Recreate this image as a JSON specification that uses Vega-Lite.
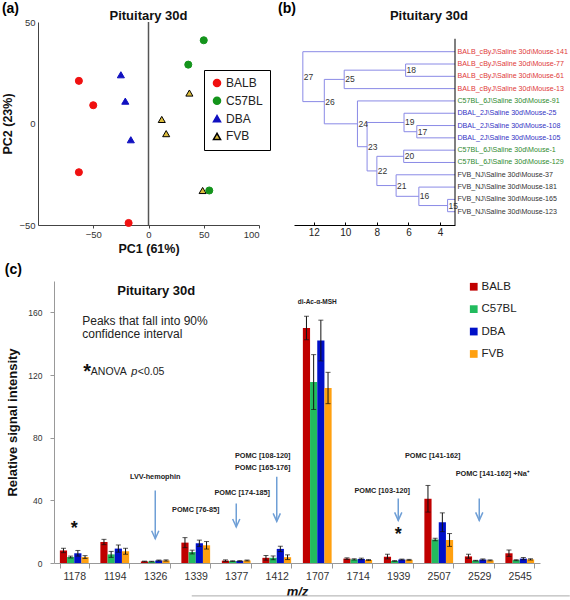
{
  "$schema": "https://vega.github.io/schema/vega-lite/v6.json",
  "background": "white",
  "padding": {"left": 1, "top": 2, "right": 0, "bottom": 0},
  "config": {"view": {"stroke": null}, "font": "Liberation Sans", "axis": {"grid": false}},
  "spacing": 8,
  "resolve": {"scale": {"x": "independent", "y": "independent", "color": "independent", "fill": "independent", "stroke": "independent", "shape": "independent"}},
  "vconcat": [
    {
      "spacing": 7,
      "resolve": {"scale": {"x": "independent", "y": "independent", "color": "independent", "fill": "independent", "stroke": "independent", "shape": "independent"}},
      "hconcat": [
        {
          "title": {"text": "(a)", "anchor": "start", "frame": "bounds", "fontSize": 14, "fontWeight": "bold", "offset": -6},
          "width": 221,
          "height": 203,
          "layer": [
            {
              "data": {"values": [{}]},
              "mark": {"type": "rule", "color": "#555", "strokeWidth": 1.5},
              "encoding": {"x": {"datum": 0, "type": "quantitative"}}
            },
            {
              "data": {"values": [
                {"strain": "BALB", "pc1": -63, "pc2": 21},
                {"strain": "BALB", "pc1": -50, "pc2": 9},
                {"strain": "BALB", "pc1": -63, "pc2": -24},
                {"strain": "BALB", "pc1": -18, "pc2": -49},
                {"strain": "DBA", "pc1": -25, "pc2": 24},
                {"strain": "DBA", "pc1": -21, "pc2": 11},
                {"strain": "DBA", "pc1": -16, "pc2": -8},
                {"strain": "FVB", "pc1": 37, "pc2": 15},
                {"strain": "FVB", "pc1": 12, "pc2": 2},
                {"strain": "FVB", "pc1": 16, "pc2": -5},
                {"strain": "FVB", "pc1": 49, "pc2": -33},
                {"strain": "C57BL", "pc1": 50, "pc2": 41},
                {"strain": "C57BL", "pc1": 36, "pc2": 29},
                {"strain": "C57BL", "pc1": 55, "pc2": -33}
              ]},
              "mark": {"type": "point", "filled": true, "opacity": 1, "size": 50, "strokeWidth": 1},
              "encoding": {
                "x": {"field": "pc1", "type": "quantitative", "scale": {"domain": [-100, 100], "nice": false, "zero": false},
                  "axis": {"values": [-50, 0, 50, 100], "labelFontSize": 9.5, "labelColor": "#333", "domainColor": "#444", "tickColor": "#444", "tickSize": 3, "labelPadding": 1, "title": "PC1 (61%)", "titleFontSize": 12.5, "titleFontWeight": "bold", "titleColor": "#111", "titlePadding": 4}},
                "y": {"field": "pc2", "type": "quantitative", "scale": {"domain": [-50, 50], "nice": false, "zero": false},
                  "axis": {"values": [-50, 0, 50], "labelFontSize": 9.5, "labelColor": "#333", "domainColor": "#444", "ticks": false, "labelPadding": 3, "title": "PC2 (23%)", "titleFontSize": 12.5, "titleFontWeight": "bold", "titleColor": "#111", "titlePadding": 4}},
                "shape": {"field": "strain", "type": "nominal", "scale": {"domain": ["BALB", "C57BL", "DBA", "FVB"], "range": ["circle", "circle", "triangle-up", "triangle-up"]},
                  "legend": {"title": null, "orient": "none", "legendX": 166, "legendY": 48, "strokeColor": "#000", "fillColor": "white", "padding": 7, "labelFontSize": 12, "labelColor": "#222", "rowPadding": 3.8, "symbolSize": 50, "labelOffset": 3}},
                "fill": {"field": "strain", "type": "nominal", "scale": {"domain": ["BALB", "C57BL", "DBA", "FVB"], "range": ["#f01010", "#14941c", "#1010c0", "#dcbc3c"]},
                  "legend": {"title": null, "orient": "none", "legendX": 166, "legendY": 48, "strokeColor": "#000", "fillColor": "white", "padding": 7, "labelFontSize": 12, "labelColor": "#222", "rowPadding": 3.8, "symbolSize": 50, "labelOffset": 3}},
                "stroke": {"field": "strain", "type": "nominal", "scale": {"domain": ["BALB", "C57BL", "DBA", "FVB"], "range": ["#f01010", "#14941c", "#1010c0", "#000000"]},
                  "legend": {"title": null, "orient": "none", "legendX": 166, "legendY": 48, "strokeColor": "#000", "fillColor": "white", "padding": 7, "labelFontSize": 12, "labelColor": "#222", "rowPadding": 3.8, "symbolSize": 50, "labelOffset": 3}}
              }
            },
            {
              "data": {"values": [{"t": "Pituitary 30d"}]},
              "mark": {"type": "text", "fontSize": 13, "fontWeight": "bold", "color": "#111", "baseline": "middle", "dy": -6},
              "encoding": {"x": {"datum": 0, "type": "quantitative"}, "y": {"datum": 50, "type": "quantitative"}, "text": {"field": "t"}}
            }
          ]
        },
        {
          "title": {"text": "(b)", "anchor": "start", "frame": "bounds", "fontSize": 14, "fontWeight": "bold", "offset": -6, "dx": -16},
          "width": 161,
          "height": 203,
          "layer": [
            {
              "data": {"values": [
                {"h1": 3.05, "h2": 3.52, "p1": 13, "p2": 13}, {"h1": 3.05, "h2": 3.52, "p1": 14, "p2": 14}, {"h1": 3.52, "h2": 3.52, "p1": 13, "p2": 14},
                {"h1": 3.05, "h2": 5.34, "p1": 12, "p2": 12}, {"h1": 3.52, "h2": 5.34, "p1": 13.5, "p2": 13.5}, {"h1": 5.34, "h2": 5.34, "p1": 12, "p2": 13.5},
                {"h1": 3.05, "h2": 5.47, "p1": 7, "p2": 7}, {"h1": 3.05, "h2": 5.47, "p1": 8, "p2": 8}, {"h1": 5.47, "h2": 5.47, "p1": 7, "p2": 8},
                {"h1": 3.05, "h2": 6.18, "p1": 2, "p2": 2}, {"h1": 3.05, "h2": 6.18, "p1": 3, "p2": 3}, {"h1": 6.18, "h2": 6.18, "p1": 2, "p2": 3},
                {"h1": 3.05, "h2": 6.28, "p1": 6, "p2": 6}, {"h1": 5.47, "h2": 6.28, "p1": 7.5, "p2": 7.5}, {"h1": 6.28, "h2": 6.28, "p1": 6, "p2": 7.5},
                {"h1": 3.05, "h2": 6.3, "p1": 9, "p2": 9}, {"h1": 3.05, "h2": 6.3, "p1": 10, "p2": 10}, {"h1": 6.3, "h2": 6.3, "p1": 9, "p2": 10},
                {"h1": 3.05, "h2": 6.78, "p1": 11, "p2": 11}, {"h1": 5.34, "h2": 6.78, "p1": 12.75, "p2": 12.75}, {"h1": 6.78, "h2": 6.78, "p1": 11, "p2": 12.75},
                {"h1": 6.3, "h2": 8.0, "p1": 9.5, "p2": 9.5}, {"h1": 6.78, "h2": 8.0, "p1": 11.875, "p2": 11.875}, {"h1": 8.0, "h2": 8.0, "p1": 9.5, "p2": 11.875},
                {"h1": 6.28, "h2": 8.62, "p1": 6.75, "p2": 6.75}, {"h1": 8.0, "h2": 8.62, "p1": 10.6875, "p2": 10.6875}, {"h1": 8.62, "h2": 8.62, "p1": 6.75, "p2": 10.6875},
                {"h1": 3.05, "h2": 9.23, "p1": 5, "p2": 5}, {"h1": 8.62, "h2": 9.23, "p1": 8.719, "p2": 8.719}, {"h1": 9.23, "h2": 9.23, "p1": 5, "p2": 8.719},
                {"h1": 3.05, "h2": 10.07, "p1": 4, "p2": 4}, {"h1": 6.18, "h2": 10.07, "p1": 2.5, "p2": 2.5}, {"h1": 10.07, "h2": 10.07, "p1": 2.5, "p2": 4},
                {"h1": 10.07, "h2": 11.33, "p1": 3.25, "p2": 3.25}, {"h1": 9.23, "h2": 11.33, "p1": 6.859, "p2": 6.859}, {"h1": 11.33, "h2": 11.33, "p1": 3.25, "p2": 6.859},
                {"h1": 3.05, "h2": 12.69, "p1": 1, "p2": 1}, {"h1": 11.33, "h2": 12.69, "p1": 5.055, "p2": 5.055}, {"h1": 12.69, "h2": 12.69, "p1": 1, "p2": 5.055}
              ]},
              "mark": {"type": "rule", "color": "#8a8ae6", "strokeWidth": 1},
              "encoding": {
                "x": {"field": "h1", "type": "quantitative", "scale": {"domain": [3.05, 13.25], "reverse": true, "nice": false, "zero": false},
                  "axis": {"values": [12, 10, 8, 6, 4], "title": null, "labelFontSize": 10, "labelColor": "#222", "domainColor": "#000", "tickColor": "#000", "tickSize": -3, "labelPadding": 5}},
                "x2": {"field": "h2"},
                "y": {"field": "p1", "type": "quantitative", "scale": {"domain": [-1.413, 15.08], "reverse": true, "nice": false, "zero": false}, "axis": null},
                "y2": {"field": "p2"}
              }
            },
            {
              "data": {"values": [{}]},
              "mark": {"type": "rule", "color": "#000", "strokeWidth": 1},
              "encoding": {"x": {"datum": 3.05, "type": "quantitative"}, "y": {"datum": -0.05, "type": "quantitative"}, "y2": {"datum": 15.08}}
            },
            {
              "data": {"values": [
                {"id": "15", "h": 3.52, "p": 13.5}, {"id": "16", "h": 5.34, "p": 12.75}, {"id": "17", "h": 5.47, "p": 7.5},
                {"id": "18", "h": 6.18, "p": 2.5}, {"id": "19", "h": 6.28, "p": 6.75}, {"id": "20", "h": 6.3, "p": 9.5},
                {"id": "21", "h": 6.78, "p": 11.875}, {"id": "22", "h": 8.0, "p": 10.6875}, {"id": "23", "h": 8.62, "p": 8.719},
                {"id": "24", "h": 9.23, "p": 6.859}, {"id": "25", "h": 10.07, "p": 3.25}, {"id": "26", "h": 11.33, "p": 5.055},
                {"id": "27", "h": 12.69, "p": 3.027}
              ]},
              "mark": {"type": "text", "align": "left", "baseline": "middle", "dx": 1, "fontSize": 8.5, "color": "#333"},
              "encoding": {"x": {"field": "h", "type": "quantitative"}, "y": {"field": "p", "type": "quantitative"}, "text": {"field": "id"}}
            },
            {
              "data": {"values": [
                {"i": 1, "grp": "BALB", "leaf": "BALB_cByJ\\Saline 30d\\Mouse-141"},
                {"i": 2, "grp": "BALB", "leaf": "BALB_cByJ\\Saline 30d\\Mouse-77"},
                {"i": 3, "grp": "BALB", "leaf": "BALB_cByJ\\Saline 30d\\Mouse-61"},
                {"i": 4, "grp": "BALB", "leaf": "BALB_cByJ\\Saline 30d\\Mouse-13"},
                {"i": 5, "grp": "C57BL", "leaf": "C57BL_6J\\Saline 30d\\Mouse-91"},
                {"i": 6, "grp": "DBA", "leaf": "DBAL_2J\\Saline 30d\\Mouse-25"},
                {"i": 7, "grp": "DBA", "leaf": "DBAL_2J\\Saline 30d\\Mouse-108"},
                {"i": 8, "grp": "DBA", "leaf": "DBAL_2J\\Saline 30d\\Mouse-105"},
                {"i": 9, "grp": "C57BL", "leaf": "C57BL_6J\\Saline 30d\\Mouse-1"},
                {"i": 10, "grp": "C57BL", "leaf": "C57BL_6J\\Saline 30d\\Mouse-129"},
                {"i": 11, "grp": "FVB", "leaf": "FVB_NJ\\Saline 30d\\Mouse-37"},
                {"i": 12, "grp": "FVB", "leaf": "FVB_NJ\\Saline 30d\\Mouse-181"},
                {"i": 13, "grp": "FVB", "leaf": "FVB_NJ\\Saline 30d\\Mouse-165"},
                {"i": 14, "grp": "FVB", "leaf": "FVB_NJ\\Saline 30d\\Mouse-123"}
              ]},
              "mark": {"type": "text", "align": "left", "baseline": "middle", "dx": 2.5, "fontSize": 7.1},
              "encoding": {
                "x": {"datum": 3.05, "type": "quantitative"},
                "y": {"field": "i", "type": "quantitative"},
                "text": {"field": "leaf"},
                "color": {"field": "grp", "type": "nominal", "scale": {"domain": ["BALB", "C57BL", "DBA", "FVB"], "range": ["#e03a3a", "#2f8a2f", "#3333c4", "#333333"]}, "legend": null}
              }
            },
            {
              "data": {"values": [{"t": "Pituitary 30d"}]},
              "mark": {"type": "text", "fontSize": 13, "fontWeight": "bold", "color": "#111", "baseline": "middle", "dy": -6},
              "encoding": {"x": {"datum": 4.7, "type": "quantitative"}, "y": {"datum": -1.413, "type": "quantitative"}, "text": {"field": "t"}}
            }
          ]
        }
      ]
    },
    {
      "title": {"text": "(c)", "anchor": "start", "frame": "bounds", "fontSize": 14, "fontWeight": "bold", "offset": 4, "dx": -2},
      "width": 502,
      "height": 282,
      "data": {"values": [
        {"mz": "1178", "strain": "BALB", "value": 8.0, "lo": 6.6, "hi": 9.4},
        {"mz": "1178", "strain": "C57BL", "value": 3.8, "lo": 3.2, "hi": 4.4},
        {"mz": "1178", "strain": "DBA", "value": 6.2, "lo": 4.4, "hi": 8.0},
        {"mz": "1178", "strain": "FVB", "value": 3.8, "lo": 2.9, "hi": 4.7},
        {"mz": "1194", "strain": "BALB", "value": 13.4, "lo": 11.7, "hi": 15.1},
        {"mz": "1194", "strain": "C57BL", "value": 5.5, "lo": 3.6, "hi": 7.4},
        {"mz": "1194", "strain": "DBA", "value": 9.2, "lo": 6.9, "hi": 11.5},
        {"mz": "1194", "strain": "FVB", "value": 7.5, "lo": 5.6, "hi": 9.4},
        {"mz": "1326", "strain": "BALB", "value": 1.0, "lo": 0.8, "hi": 1.2},
        {"mz": "1326", "strain": "C57BL", "value": 0.9, "lo": 0.7, "hi": 1.1},
        {"mz": "1326", "strain": "DBA", "value": 1.6, "lo": 1.3, "hi": 1.9},
        {"mz": "1326", "strain": "FVB", "value": 1.6, "lo": 1.2, "hi": 2.0},
        {"mz": "1339", "strain": "BALB", "value": 13.0, "lo": 9.8, "hi": 16.2},
        {"mz": "1339", "strain": "C57BL", "value": 7.0, "lo": 5.8, "hi": 8.2},
        {"mz": "1339", "strain": "DBA", "value": 12.6, "lo": 10.6, "hi": 14.6},
        {"mz": "1339", "strain": "FVB", "value": 11.3, "lo": 8.9, "hi": 13.7},
        {"mz": "1377", "strain": "BALB", "value": 1.5, "lo": 1.0, "hi": 2.0},
        {"mz": "1377", "strain": "C57BL", "value": 1.2, "lo": 1.0, "hi": 1.4},
        {"mz": "1377", "strain": "DBA", "value": 1.3, "lo": 1.1, "hi": 1.5},
        {"mz": "1377", "strain": "FVB", "value": 1.6, "lo": 1.3, "hi": 1.9},
        {"mz": "1412", "strain": "BALB", "value": 3.3, "lo": 1.8, "hi": 4.8},
        {"mz": "1412", "strain": "C57BL", "value": 3.3, "lo": 2.1, "hi": 4.5},
        {"mz": "1412", "strain": "DBA", "value": 9.0, "lo": 7.3, "hi": 10.7},
        {"mz": "1412", "strain": "FVB", "value": 3.7, "lo": 2.2, "hi": 5.2},
        {"mz": "1707", "strain": "BALB", "value": 150.0, "lo": 142.5, "hi": 157.5},
        {"mz": "1707", "strain": "C57BL", "value": 115.5, "lo": 98.0, "hi": 133.0},
        {"mz": "1707", "strain": "DBA", "value": 142.0, "lo": 129.0, "hi": 155.0},
        {"mz": "1707", "strain": "FVB", "value": 111.7, "lo": 101.7, "hi": 121.7},
        {"mz": "1714", "strain": "BALB", "value": 2.8, "lo": 2.3, "hi": 3.3},
        {"mz": "1714", "strain": "C57BL", "value": 2.3, "lo": 1.9, "hi": 2.7},
        {"mz": "1714", "strain": "DBA", "value": 2.6, "lo": 2.1, "hi": 3.1},
        {"mz": "1714", "strain": "FVB", "value": 1.9, "lo": 1.6, "hi": 2.2},
        {"mz": "1939", "strain": "BALB", "value": 4.0, "lo": 2.6, "hi": 5.6},
        {"mz": "1939", "strain": "C57BL", "value": 1.3, "lo": 1.1, "hi": 1.5},
        {"mz": "1939", "strain": "DBA", "value": 2.2, "lo": 1.9, "hi": 2.5},
        {"mz": "1939", "strain": "FVB", "value": 2.0, "lo": 1.7, "hi": 2.3},
        {"mz": "2507", "strain": "BALB", "value": 41.0, "lo": 32.5, "hi": 49.5},
        {"mz": "2507", "strain": "C57BL", "value": 15.0, "lo": 14.2, "hi": 15.8},
        {"mz": "2507", "strain": "DBA", "value": 26.0, "lo": 20.0, "hi": 32.0},
        {"mz": "2507", "strain": "FVB", "value": 14.7, "lo": 10.6, "hi": 18.8},
        {"mz": "2529", "strain": "BALB", "value": 4.2, "lo": 3.0, "hi": 5.6},
        {"mz": "2529", "strain": "C57BL", "value": 1.5, "lo": 1.3, "hi": 1.7},
        {"mz": "2529", "strain": "DBA", "value": 2.2, "lo": 1.8, "hi": 2.6},
        {"mz": "2529", "strain": "FVB", "value": 1.7, "lo": 1.4, "hi": 2.0},
        {"mz": "2545", "strain": "BALB", "value": 6.2, "lo": 4.2, "hi": 8.3},
        {"mz": "2545", "strain": "C57BL", "value": 1.8, "lo": 1.5, "hi": 2.1},
        {"mz": "2545", "strain": "DBA", "value": 2.8, "lo": 2.1, "hi": 3.5},
        {"mz": "2545", "strain": "FVB", "value": 2.3, "lo": 1.9, "hi": 2.7}
      ]},
      "encoding": {
        "x": {"field": "mz", "type": "nominal",
          "scale": {"domain": ["1178", "1194", "1326", "1339", "1377", "1412", "1707", "1714", "1939", "2507", "2529", "2545"], "range": [16, 502], "paddingInner": 0.29, "paddingOuter": 0.145},
          "axis": {"title": "m/z", "titleFontStyle": "italic", "titleFontWeight": "bold", "titleFontSize": 13, "titleColor": "#111", "titlePadding": 4, "labelAngle": 0, "labelFontSize": 10.5, "labelColor": "#333", "domainColor": "#999", "tickColor": "#999", "tickBand": "extent", "tickSize": 5, "labelPadding": 3}}
      },
      "layer": [
        {
          "mark": {"type": "bar"},
          "encoding": {
            "xOffset": {"field": "strain", "type": "nominal", "scale": {"domain": ["BALB", "C57BL", "DBA", "FVB"]}},
            "y": {"field": "value", "type": "quantitative", "scale": {"domain": [0, 180], "nice": false},
              "axis": {"values": [0, 20, 40, 60, 80, 100, 120, 140, 160, 180], "offset": -16, "labelOverlap": false, "labelFontSize": 8.5, "labelColor": "#333", "domainColor": "#999", "tickColor": "#999", "tickSize": 4, "labelPadding": 8, "title": "Relative signal intensity", "titleFontSize": 13, "titleFontWeight": "bold", "titleColor": "#111", "titlePadding": 8}},
            "color": {"field": "strain", "type": "nominal", "scale": {"domain": ["BALB", "C57BL", "DBA", "FVB"], "range": ["#c00000", "#22bb5e", "#0010c8", "#ffa010"]},
              "legend": {"title": null, "orient": "none", "legendX": 430, "legendY": 0, "symbolType": "square", "symbolSize": 60, "labelFontSize": 11.5, "labelColor": "#222", "rowPadding": 9.4, "labelOffset": 2, "padding": 0}}
          }
        },
        {
          "mark": {"type": "rule", "color": "#111", "strokeWidth": 1},
          "encoding": {
            "xOffset": {"field": "strain", "type": "nominal"},
            "y": {"field": "lo", "type": "quantitative"},
            "y2": {"field": "hi"}
          }
        },
        {
          "mark": {"type": "tick", "color": "#111", "thickness": 1, "size": 5},
          "encoding": {"xOffset": {"field": "strain", "type": "nominal"}, "y": {"field": "lo", "type": "quantitative"}}
        },
        {
          "mark": {"type": "tick", "color": "#111", "thickness": 1, "size": 5},
          "encoding": {"xOffset": {"field": "strain", "type": "nominal"}, "y": {"field": "hi", "type": "quantitative"}}
        },
        {
          "data": {"values": [
            {"mz": "1326", "top": 46.2, "tip": 15.5},
            {"mz": "1377", "top": 37.9, "tip": 23.0},
            {"mz": "1412", "top": 55.1, "tip": 26.6},
            {"mz": "1939", "top": 41.1, "tip": 27.2},
            {"mz": "2529", "top": 41.1, "tip": 27.2}
          ]},
          "layer": [
            {"mark": {"type": "rule", "color": "#6f9fd6", "strokeWidth": 1.5},
             "encoding": {"y": {"field": "top", "type": "quantitative"}, "y2": {"field": "tip"}}},
            {"mark": {"type": "point", "shape": "M-0.45,-1L0,0L0.45,-1", "filled": false, "size": 256, "color": "#6f9fd6", "strokeWidth": 1.5, "opacity": 1},
             "encoding": {"y": {"field": "tip", "type": "quantitative"}}}
          ]
        },
        {
          "data": {"values": [{"from": "1339", "to": "2545", "y": -21}]},
          "mark": {"type": "rule", "color": "#aaaaaa", "strokeWidth": 1, "xOffset": -4, "x2Offset": 50},
          "encoding": {"x": {"field": "from"}, "x2": {"field": "to"}, "y": {"field": "y", "type": "quantitative"}}
        },
        {
          "data": {"values": [{"mz": "1326", "y": 55, "t": "LVV-hemophin"}, {"mz": "1339", "y": 33.6, "t": "POMC [76-85]"}]},
          "mark": {"type": "text", "fontWeight": "bold", "fontSize": 7.3, "color": "#222", "baseline": "middle"},
          "encoding": {"y": {"field": "y", "type": "quantitative"}, "text": {"field": "t"}}
        },
        {
          "data": {"values": [{"mz": "1707", "y": 166.8, "t": "di-Ac-α-MSH"}]},
          "mark": {"type": "text", "fontWeight": "bold", "fontSize": 6.5, "color": "#222", "baseline": "middle"},
          "encoding": {"y": {"field": "y", "type": "quantitative"}, "text": {"field": "t"}}
        },
        {
          "data": {"values": [{"mz": "1377", "y": 45, "t": "POMC [174-185]"}]},
          "mark": {"type": "text", "fontWeight": "bold", "fontSize": 7.3, "color": "#222", "baseline": "middle", "dx": 6},
          "encoding": {"y": {"field": "y", "type": "quantitative"}, "text": {"field": "t"}}
        },
        {
          "data": {"values": [{"mz": "1412", "y": 68.4, "t": "POMC [108-120]"}, {"mz": "1412", "y": 60.7, "t": "POMC [165-176]"}]},
          "mark": {"type": "text", "fontWeight": "bold", "fontSize": 7.3, "color": "#222", "baseline": "middle", "dx": -14},
          "encoding": {"y": {"field": "y", "type": "quantitative"}, "text": {"field": "t"}}
        },
        {
          "data": {"values": [{"mz": "1939", "y": 45.8, "t": "POMC [103-120]"}]},
          "mark": {"type": "text", "fontWeight": "bold", "fontSize": 7.3, "color": "#222", "baseline": "middle", "dx": -16},
          "encoding": {"y": {"field": "y", "type": "quantitative"}, "text": {"field": "t"}}
        },
        {
          "data": {"values": [{"mz": "2507", "y": 68.1, "t": "POMC [141-162]"}]},
          "mark": {"type": "text", "fontWeight": "bold", "fontSize": 7.3, "color": "#222", "baseline": "middle", "dx": -6},
          "encoding": {"y": {"field": "y", "type": "quantitative"}, "text": {"field": "t"}}
        },
        {
          "data": {"values": [{"mz": "2529", "y": 56.6, "t": "POMC [141-162] +Na⁺"}]},
          "mark": {"type": "text", "fontWeight": "bold", "fontSize": 7.3, "color": "#222", "baseline": "middle", "dx": 13},
          "encoding": {"y": {"field": "y", "type": "quantitative"}, "text": {"field": "t"}}
        },
        {
          "data": {"values": [{"mz": "1178", "y": 24.7, "t": "*"}, {"mz": "1939", "y": 20.8, "t": "*"}]},
          "mark": {"type": "text", "fontWeight": "bold", "fontSize": 18, "color": "#111", "baseline": "alphabetic", "dy": 10},
          "encoding": {"y": {"field": "y", "type": "quantitative"}, "text": {"field": "t"}}
        },
        {
          "data": {"values": [{"mz": "1178", "y": 154.2, "t": "Peaks that fall into 90%"}, {"mz": "1178", "y": 145.9, "t": "confidence interval"}]},
          "mark": {"type": "text", "fontSize": 12, "color": "#222", "baseline": "middle", "align": "left", "dx": 8},
          "encoding": {"y": {"field": "y", "type": "quantitative"}, "text": {"field": "t"}}
        },
        {
          "data": {"values": [{"mz": "1178", "y": 124.8, "t": "*"}]},
          "mark": {"type": "text", "fontWeight": "bold", "fontSize": 20, "color": "#111", "baseline": "alphabetic", "dy": 11, "dx": 13},
          "encoding": {"y": {"field": "y", "type": "quantitative"}, "text": {"field": "t"}}
        },
        {
          "data": {"values": [{"mz": "1178", "y": 121.6, "t": "ANOVA"}]},
          "mark": {"type": "text", "fontSize": 10.5, "color": "#222", "baseline": "middle", "align": "left", "dx": 16.6},
          "encoding": {"y": {"field": "y", "type": "quantitative"}, "text": {"field": "t"}}
        },
        {
          "data": {"values": [{"mz": "1178", "y": 121.6, "t": "p"}]},
          "mark": {"type": "text", "fontSize": 11, "fontStyle": "italic", "color": "#222", "baseline": "middle", "align": "left", "dx": 57},
          "encoding": {"y": {"field": "y", "type": "quantitative"}, "text": {"field": "t"}}
        },
        {
          "data": {"values": [{"mz": "1178", "y": 121.6, "t": "<0.05"}]},
          "mark": {"type": "text", "fontSize": 10.5, "color": "#222", "baseline": "middle", "align": "left", "dx": 63.5},
          "encoding": {"y": {"field": "y", "type": "quantitative"}, "text": {"field": "t"}}
        },
        {
          "data": {"values": [{"mz": "1326", "y": 173.4, "t": "Pituitary 30d"}]},
          "mark": {"type": "text", "fontSize": 13, "fontWeight": "bold", "color": "#111", "baseline": "middle", "dx": 1},
          "encoding": {"y": {"field": "y", "type": "quantitative"}, "text": {"field": "t"}}
        }
      ]
    }
  ]
}
